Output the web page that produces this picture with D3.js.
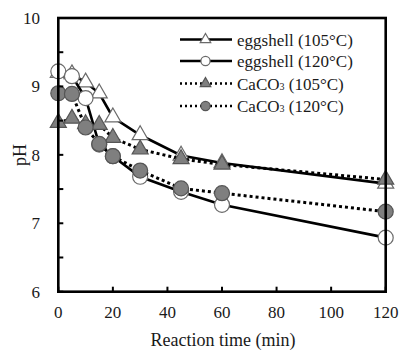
<!DOCTYPE html>
<html><head><meta charset="utf-8">
<script src="https://cdn.jsdelivr.net/npm/d3@7"></script>
<style>body{margin:0;background:#fff}svg{display:block}text{font-family:"Liberation Serif","Times New Roman",serif;fill:#1a1a1a}</style>
</head><body><svg id="c" width="414" height="355"></svg>
<script>
const times = [0, 5, 10, 15, 20, 30, 45, 60, 120];
const egg105 = [9.2, 9.18, 9.06, 8.9, 8.55, 8.29, 7.99, 7.88, 7.58];
const egg120 = [9.22, 9.15, 8.83, 8.15, 7.98, 7.68, 7.46, 7.27, 6.79];
const caco105 = [8.47, 8.53, 8.45, 8.44, 8.25, 8.08, 7.94, 7.86, 7.64];
const caco120 = [8.9, 8.89, 8.4, 8.16, 7.98, 7.77, 7.51, 7.44, 7.17];
const xTicks = [0, 20, 40, 60, 80, 100, 120];
const yTicks = [6, 7, 8, 9, 10];
const yMinor = [6.5, 7.5, 8.5, 9.5];
const seriesNames = ["eggshell  (105°C)", "eggshell  (120°C)", "CaCO3 (105°C)", "CaCO3 (120°C)"];

const svg = d3.select("#c");
const L = 58.3, R = 385.7, T = 18, B = 291.7;
const x = d3.scaleLinear().domain([0, 120]).range([L, R]);
const y = d3.scaleLinear().domain([6, 10]).range([B, T]);

const series = [
  {name: seriesNames[0], vals: egg105, shape: "tri", fill: "#fff", stroke: "#6a6a6a", dash: null},
  {name: seriesNames[1], vals: egg120, shape: "circ", fill: "#fff", stroke: "#6a6a6a", dash: null},
  {name: seriesNames[2], vals: caco105, shape: "tri", fill: "#7f7f7f", stroke: "#555", dash: "3,3"},
  {name: seriesNames[3], vals: caco120, shape: "circ", fill: "#7f7f7f", stroke: "#555", dash: "3,3"}
];

const line = d3.line().x((d, i) => x(times[i])).y(d => y(d));
function drawMarker(g, s, cx, cy, r, side) {
  if (s.shape === "circ") {
    g.append("circle").attr("cx", cx).attr("cy", cy).attr("r", r)
      .attr("fill", s.fill).attr("stroke", s.stroke).attr("stroke-width", 1.2);
  } else {
    const sym = d3.symbol().type(d3.symbolTriangle).size(Math.sqrt(3) / 4 * side * side);
    g.append("path").attr("d", sym()).attr("transform", `translate(${cx},${cy})`)
      .attr("fill", s.fill).attr("stroke", s.stroke).attr("stroke-width", 1.2);
  }
}

series.forEach(s => {
  const g = svg.append("g");
  g.append("path").attr("d", line(s.vals)).attr("fill", "none").attr("stroke", "#000")
    .attr("stroke-width", s.dash ? 3 : 2.6).attr("stroke-dasharray", s.dash);
  s.vals.forEach((v, i) => drawMarker(g, s, x(times[i]), y(v), 7.5, 16));
});

// frame
svg.append("rect").attr("x", L).attr("y", T).attr("width", R - L).attr("height", B - T)
  .attr("fill", "none").attr("stroke", "#000").attr("stroke-width", 2.6);

// ticks
xTicks.forEach(t => {
  svg.append("line").attr("x1", x(t)).attr("x2", x(t)).attr("y1", B).attr("y2", B - 5)
    .attr("stroke", "#000").attr("stroke-width", 2);
  svg.append("text").attr("x", x(t)).attr("y", 318).attr("text-anchor", "middle")
    .attr("font-size", 17).text(t);
});
yTicks.concat(yMinor).forEach(t => {
  svg.append("line").attr("x1", L).attr("x2", L + 5).attr("y1", y(t)).attr("y2", y(t))
    .attr("stroke", "#000").attr("stroke-width", 2);
});
yTicks.forEach(t => {
  svg.append("text").attr("x", 40).attr("y", y(t) + 6).attr("text-anchor", "end")
    .attr("font-size", 17).text(t);
});

svg.append("text").attr("x", 223).attr("y", 346).attr("text-anchor", "middle")
  .attr("font-size", 18).text("Reaction time (min)");
svg.append("text").attr("transform", "translate(26,155) rotate(-90)").attr("text-anchor", "middle")
  .attr("font-size", 18).text("pH");

// legend
const ly = [39.5, 61, 83.5, 106];
series.forEach((s, i) => {
  const g = svg.append("g");
  g.append("line").attr("x1", 180).attr("x2", 232).attr("y1", ly[i]).attr("y2", ly[i])
    .attr("stroke", "#000").attr("stroke-width", s.dash ? 2.4 : 2.6)
    .attr("stroke-dasharray", s.dash ? "2,3" : null);
  drawMarker(g, s, 205.5, ly[i], 4.6, 10.5);
  const t = g.append("text").attr("x", 237).attr("y", ly[i] + 6).attr("font-size", 17);
  if (s.name.startsWith("CaCO3")) {
    t.append("tspan").text("CaCO");
    t.append("tspan").attr("font-size", 10).text("3");
    t.append("tspan").text(s.name.slice(5));
  } else t.text(s.name);
});
</script></body></html>
